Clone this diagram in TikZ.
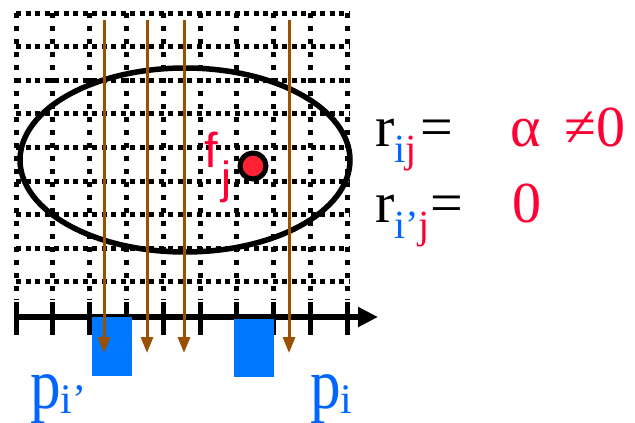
\documentclass[tikz,border=0pt]{standalone}
\usepackage{fontspec}
\setmainfont{Liberation Serif}
\newfontfamily\labsans{Liberation Sans}
\usetikzlibrary{arrows.meta}
\definecolor{tred}{RGB}{255,0,51}
\definecolor{dotred}{RGB}{255,34,51}
\definecolor{tblue}{RGB}{0,102,255}
\definecolor{rblue}{RGB}{0,119,255}
\definecolor{brown}{RGB}{153,80,0}
\tikzset{
  gridh/.style={line width=5pt, dash pattern=on 5pt off 4.5pt},
  gridv/.style={line width=5pt, dash pattern=on 5pt off 8pt},
  tick/.style={line width=5pt},
  axis/.style={line width=5.5pt, -{Triangle[width=19pt,length=20pt]}},
  ray/.style={brown, line width=3pt, -{Triangle[width=12pt,length=16pt]}},
  pix/.style={fill=rblue, draw=none},
  lab/.style={inner sep=0pt, anchor=base west},
}
\begin{document}
\begin{tikzpicture}[x=1pt,y=-1pt]
\useasboundingbox (0,0) rectangle (635,423);
% grid
\foreach \k in {0,...,8} {
  \draw[gridh] (16,{13+33.6*\k}) -- (349,{13+33.6*\k});
}
\foreach \k in {0,...,9} {
  \draw[gridv] ({16+36.8*\k},13) -- ({16+36.8*\k},300);
}
% axis
\coordinate (ax0) at (16,317);
\coordinate (ax1) at (378,317);
\draw[axis] (ax0) -- (ax1);
\foreach \k in {0,...,9} {
  \draw[tick] ({16+36.8*\k},302) -- ({16+36.8*\k},335);
}
% detector pixels
\node[pix, minimum width=40pt, minimum height=59pt, inner sep=0pt] (pa) at (112,346.5) {};
\node[pix, minimum width=40pt, minimum height=58pt, inner sep=0pt] (pb) at (254,348) {};
% object ellipse
\draw[line width=5.5pt] (185,160) ellipse [x radius=165, y radius=92];
% voxel
\node[circle, draw=black, line width=5pt, fill=dotred, minimum size=26pt, inner sep=0pt] (fj) at (253,166) {};
\node[lab, text=tred] (flab) at (204,167) {\labsans\fontsize{49}{50}\selectfont f};
\node[lab, text=tred] (jlab) at (221,193) {\labsans\fontsize{45}{46}\selectfont j};
% rays
\foreach \x/\n in {104/a,147/b,184/c,289/d} {
  \coordinate (s\n) at (\x,20);
  \coordinate (e\n) at (\x,353);
  \draw[ray] (s\n) -- (e\n);
}
% equations
\node[lab] (r1) at (375,146) {\fontsize{58}{60}\selectfont r\raisebox{-16pt}{\fontsize{40}{40}\selectfont\color{tblue}i\color{tred}j}\hspace{4pt}=};
\node[lab, text=tred] (v1) at (510,146) {\fontsize{58}{60}\selectfont α\hspace{24pt}≠0};
\node[lab] (r2) at (375,222) {\fontsize{58}{60}\selectfont r\raisebox{-16pt}{\fontsize{40}{40}\selectfont\color{tblue}i’\color{tred}j}=};
\node[lab, text=tred] (v2) at (512,222) {\fontsize{58}{60}\selectfont 0};
% pixel labels
\node[lab, text=tblue] (p1) at (30,408) {\scalebox{0.85}[1]{\fontsize{72}{74}\selectfont p}\raisebox{-5pt}{\fontsize{42}{42}\selectfont i’}};
\node[lab, text=tblue] (p2) at (310,408) {\scalebox{0.85}[1]{\fontsize{72}{74}\selectfont p}\raisebox{-5pt}{\fontsize{42}{42}\selectfont i}};
\end{tikzpicture}
\end{document}
